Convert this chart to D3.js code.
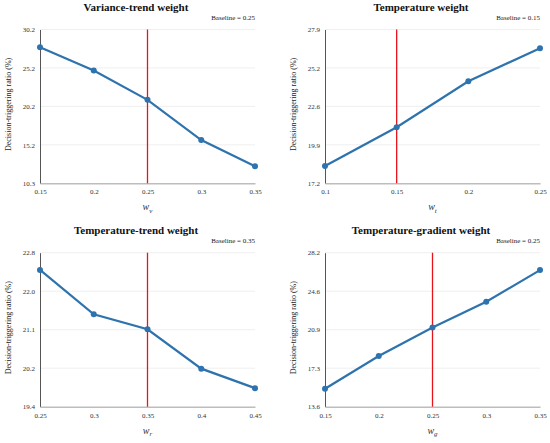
<!DOCTYPE html>
<html><head><meta charset="utf-8">
<script src="https://cdn.jsdelivr.net/npm/d3@7/dist/d3.min.js"></script>
<style>body{margin:0;background:#fff}svg{display:block}</style>
</head><body><svg id="c" width="550" height="443"></svg>
<script>
// Panel titles
const titles = ["Variance-trend weight", "Temperature weight", "Temperature-trend weight", "Temperature-gradient weight"];
const subs = ["v", "t", "r", "g"];
const baselines = [0.25, 0.15, 0.35, 0.25];
// x categories
const x1 = [0.15, 0.2, 0.25, 0.3, 0.35];
const x2 = [0.1, 0.15, 0.2, 0.25];
const x3 = [0.25, 0.3, 0.35, 0.4, 0.45];
const x4 = [0.15, 0.2, 0.25, 0.3, 0.35];
// series values (%)
const y1 = [27.9, 24.9, 21.1, 15.9, 12.5];
const y2 = [18.4, 21.1, 24.3, 26.6];
const y3 = [22.42, 21.44, 21.11, 20.24, 19.81];
const y4 = [15.3, 18.4, 21.1, 23.55, 26.55];
// y tick labels (equally spaced)
const t1 = ["10.3", "15.2", "20.2", "25.2", "30.2"];
const t2 = ["17.2", "19.9", "22.6", "25.2", "27.9"];
const t3 = ["19.4", "20.2", "21.1", "22.0", "22.8"];
const t4 = ["13.6", "17.3", "20.9", "24.6", "28.2"];
const ranges = [[10.3, 30.2], [17.2, 27.9], [19.4, 22.8], [13.6, 28.2]];

const FONT = "'Liberation Serif', Tinos, 'Times New Roman', Times, 'DejaVu Serif', serif";
const xs = [x1, x2, x3, x4], ys = [y1, y2, y3, y4], ts = [t1, t2, t3, t4];
const boxes = [
  {l: 40, r: 255, t: 29.5, b: 183.3},
  {l: 325, r: 540, t: 29.5, b: 183.3},
  {l: 40, r: 255, t: 252.7, b: 406.7},
  {l: 325, r: 540, t: 252.7, b: 406.7}
];
const svg = d3.select("#c").style("font-family", FONT);
const blue = "#2e73ad", red = "#e8141c";

boxes.forEach((bx, i) => {
  const xv = xs[i], yv = ys[i], tl = ts[i], rg = ranges[i];
  const x = d3.scaleLinear().domain([xv[0], xv[xv.length - 1]]).range([bx.l, bx.r]);
  const y = d3.scaleLinear().domain(rg).range([bx.b, bx.t]);
  const g = svg.append("g").style("font-family", FONT);
  const tickVals = d3.range(5).map(k => rg[0] + (rg[1] - rg[0]) * k / 4);

  // gridlines
  g.selectAll(".grid").data(tickVals.slice(1)).join("line")
    .attr("x1", bx.l).attr("x2", bx.r)
    .attr("y1", d => y(d)).attr("y2", d => y(d))
    .attr("stroke", "#ebebeb").attr("stroke-width", 0.8);

  // y axis
  const ya = d3.axisLeft(y).tickValues(tickVals).tickSize(0).tickPadding(5)
    .tickFormat((d, k) => tl[k]);
  const yg = g.append("g").attr("transform", `translate(${bx.l},0)`).call(ya);
  yg.attr("font-family", null).style("font-family", FONT);
  yg.select(".domain").attr("stroke", "#555").attr("stroke-width", 1);
  yg.selectAll("text").attr("font-size", 7).attr("fill", "#333").style("font-family", FONT);

  // x axis
  const xa = d3.axisBottom(x).tickValues(xv).tickSize(0).tickPadding(6)
    .tickFormat(d => String(+d.toFixed(2)));
  const xg = g.append("g").attr("transform", `translate(0,${bx.b})`).call(xa);
  xg.attr("font-family", null).style("font-family", FONT);
  xg.select(".domain").attr("stroke", "#bdbdbd").attr("stroke-width", 1.5);
  xg.selectAll("text").attr("font-size", 7).attr("fill", "#333").style("font-family", FONT);

  // baseline red line
  g.append("line").attr("x1", x(baselines[i])).attr("x2", x(baselines[i]))
    .attr("y1", bx.t).attr("y2", bx.b).attr("stroke", red).attr("stroke-width", 1.3);

  // data line
  const pts = xv.map((d, k) => [d, yv[k]]);
  g.append("path").datum(pts)
    .attr("d", d3.line().x(d => x(d[0])).y(d => y(d[1])))
    .attr("fill", "none").attr("stroke", blue).attr("stroke-width", 2.2);
  g.selectAll(".pt").data(pts).join("circle")
    .attr("cx", d => x(d[0])).attr("cy", d => y(d[1])).attr("r", 3)
    .attr("fill", blue);

  // title
  g.append("text").attr("x", (bx.l + bx.r) / 2 - 11.5).attr("y", bx.t - 19)
    .attr("text-anchor", "middle").attr("font-size", 11).attr("font-weight", "bold")
    .attr("fill", "#111").style("font-family", FONT).text(titles[i]);
  // baseline note
  g.append("text").attr("x", bx.r).attr("y", bx.t - 9.5)
    .attr("text-anchor", "end").attr("font-size", 7).attr("fill", "#222")
    .style("font-family", FONT).text("Baseline = " + baselines[i]);
  // y label
  const cy = (bx.t + bx.b) / 2 - 2;
  g.append("text").attr("transform", `translate(${bx.l - 29},${cy}) rotate(-90)`)
    .attr("text-anchor", "middle").attr("font-size", 8).attr("fill", "#222")
    .style("font-family", FONT).text("Decision-triggering ratio (%)");
  // x label
  const xl = g.append("text").attr("x", (bx.l + bx.r) / 2).attr("y", bx.b + 27)
    .attr("text-anchor", "middle").attr("font-size", 10).attr("font-style", "italic")
    .attr("fill", "#333").style("font-family", FONT);
  xl.append("tspan").text("w");
  xl.append("tspan").attr("dy", 2.5).attr("font-size", 7).text(subs[i]);
});
</script></body></html>
